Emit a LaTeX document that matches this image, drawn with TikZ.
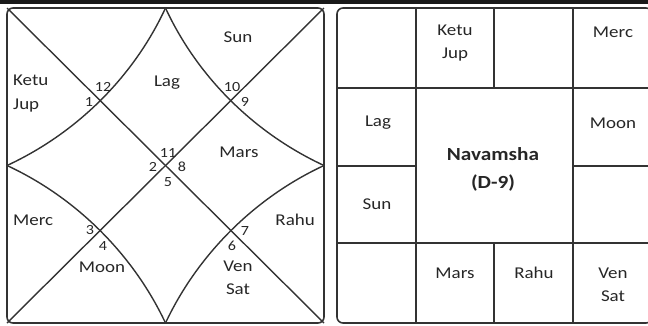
\documentclass[tikz,border=0pt]{standalone}
\usepackage{fontspec}
\setmainfont{Carlito}[FakeStretch=1.15]
\begin{document}
\begin{tikzpicture}[x=1pt,y=-1pt,
  chartline/.style={draw=black!80, line width=1.4pt},
  frame/.style={draw=black!80, line width=1.6pt, rounded corners=6pt},
  planet/.style={font=\fontsize{16.5}{23}\selectfont, text=black!85, inner sep=0pt, align=center},
  planetl/.style={font=\fontsize{16.5}{24}\selectfont, text=black!85, inner sep=0pt, align=left},
  housenum/.style={font=\fontsize{14}{16}\selectfont, text=black!85, inner sep=0pt},
  title/.style={font=\fontsize{18.5}{28}\selectfont\bfseries, text=black!85, inner sep=0pt, align=center}]
\useasboundingbox (0,0) rectangle (648,325);
\fill[black!90] (0,0) rectangle (648,4);
% ---------- left chart (North Indian) ----------
\coordinate (TL) at (7,8);
\coordinate (TR) at (324,8);
\coordinate (BL) at (7,323);
\coordinate (BR) at (324,323);
\coordinate (MT) at (165.5,8);
\coordinate (ML) at (7,165.5);
\coordinate (MR) at (324,165.5);
\coordinate (MB) at (165.5,323);
\draw[frame] (TL) rectangle (BR);
\draw[chartline] (TL) -- (BR);
\draw[chartline] (TR) -- (BL);
\draw[chartline] (MT) .. controls (133.4,77.3) and (76.3,133.4) .. (ML);
\draw[chartline] (MT) .. controls (197.6,77.3) and (254.7,133.4) .. (MR);
\draw[chartline] (ML) .. controls (76.3,197.6) and (133.4,254.7) .. (MB);
\draw[chartline] (MR) .. controls (254.7,197.6) and (197.6,254.7) .. (MB);
% planets
\node[planet] (sunL) at (238,37) {Sun};
\node[planet] (lagL) at (167,83) {Lag};
\node[planetl, anchor=west] (ketuL) at (13,94) {Ketu\\Jup};
\node[planet] (marsL) at (239,152) {Mars};
\node[planetl, anchor=west] (mercL) at (13,220) {Merc};
\node[planet, anchor=east] (rahuL) at (315,220) {Rahu};
\node[planet] (moonL) at (102,267) {Moon};
\node[planet] (venL) at (238,278) {Ven\\Sat};
% house numbers
\node[housenum] (h12) at (103,87) {12};
\node[housenum] (h1) at (89,102) {1};
\node[housenum] (h10) at (232,87) {10};
\node[housenum] (h9) at (245,102) {9};
\node[housenum] (h11) at (168,153) {11};
\node[housenum] (h2) at (153,167) {2};
\node[housenum] (h8) at (182,167) {8};
\node[housenum] (h5) at (168,182) {5};
\node[housenum] (h3) at (90,230) {3};
\node[housenum] (h4) at (103,246) {4};
\node[housenum] (h7) at (245,231) {7};
\node[housenum] (h6) at (232,246) {6};
% ---------- right chart (South Indian) ----------
\coordinate (sTL) at (337,8);
\coordinate (sBR) at (652,323);
\coordinate (v1t) at (416,8);  \coordinate (v1b) at (416,323);
\coordinate (v2t) at (494,8);  \coordinate (v2a) at (494,88);
\coordinate (v2c) at (494,243); \coordinate (v2b) at (494,323);
\coordinate (v3t) at (573,8);  \coordinate (v3b) at (573,323);
\coordinate (h1l) at (337,88); \coordinate (h1r) at (652,88);
\coordinate (h3l) at (337,243); \coordinate (h3r) at (652,243);
\coordinate (h2a) at (337,166); \coordinate (h2b) at (416,166);
\coordinate (h2c) at (573,166); \coordinate (h2d) at (652,166);
\draw[frame] (sTL) rectangle (sBR);
\draw[chartline] (v1t) -- (v1b);
\draw[chartline] (v3t) -- (v3b);
\draw[chartline] (v2t) -- (v2a);
\draw[chartline] (v2c) -- (v2b);
\draw[chartline] (h1l) -- (h1r);
\draw[chartline] (h3l) -- (h3r);
\draw[chartline] (h2a) -- (h2b);
\draw[chartline] (h2c) -- (h2d);
\node[planet] (ketuR) at (455,43.5) {Ketu\\Jup};
\node[planet] (mercR) at (613,32) {Merc};
\node[planet] (lagR) at (378,123) {Lag};
\node[planet] (moonR) at (613,123) {Moon};
\node[title] (nav) at (493,169) {Navamsha\\(D-9)};
\node[planet] (sunR) at (377,204) {Sun};
\node[planet] (marsR) at (455,273) {Mars};
\node[planet] (rahuR) at (534,273) {Rahu};
\node[planet] (venR) at (613,285) {Ven\\Sat};
\end{tikzpicture}
\end{document}
